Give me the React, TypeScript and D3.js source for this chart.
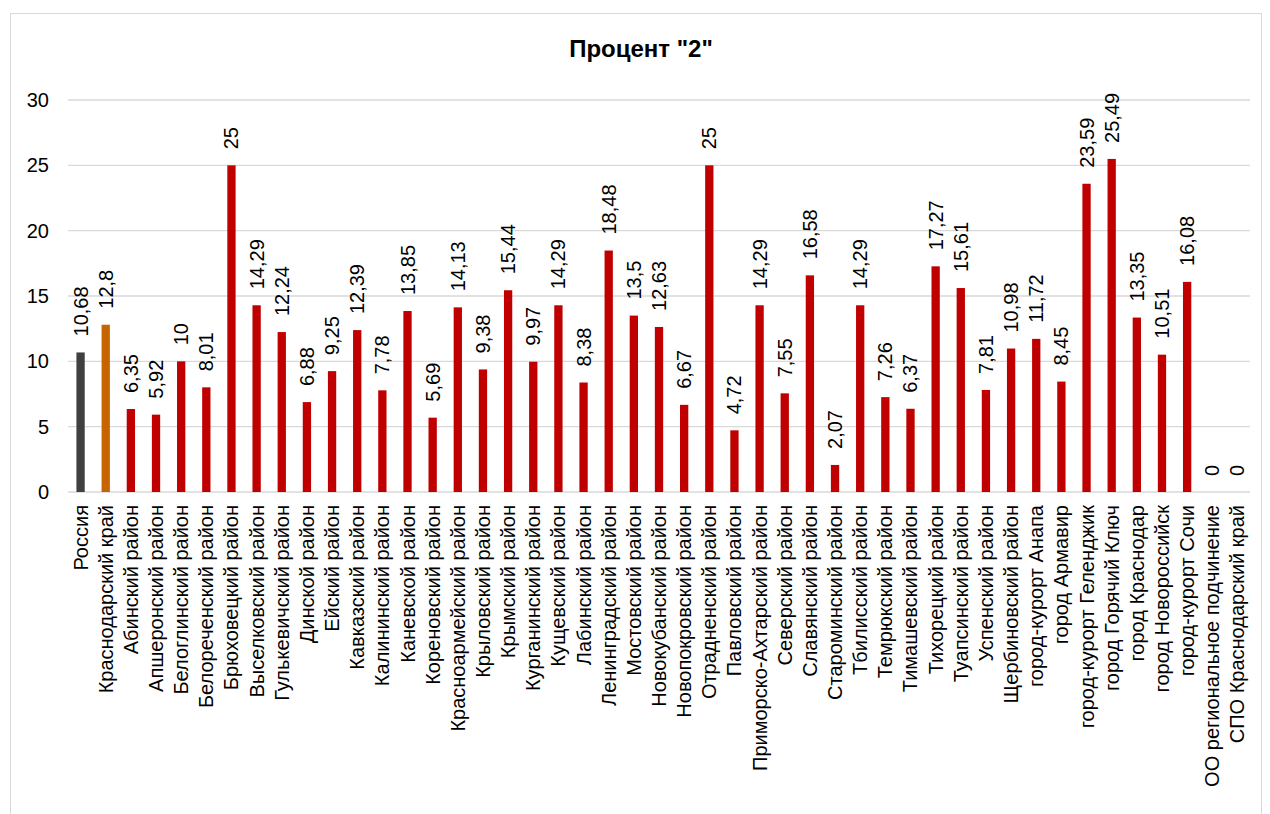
import React from "react";
import * as d3 from "d3";

const categories = [
  "Россия", "Краснодарский край", "Абинский район", "Апшеронский район", "Белоглинский район",
  "Белореченский район", "Брюховецкий район", "Выселковский район", "Гулькевичский район", "Динской район",
  "Ейский район", "Кавказский район", "Калининский район", "Каневской район", "Кореновский район",
  "Красноармейский район", "Крыловский район", "Крымский район", "Курганинский район", "Кущевский район",
  "Лабинский район", "Ленинградский район", "Мостовский район", "Новокубанский район", "Новопокровский район",
  "Отрадненский район", "Павловский район", "Приморско-Ахтарский район", "Северский район", "Славянский район",
  "Староминский район", "Тбилисский район", "Темрюкский район", "Тимашевский район", "Тихорецкий район",
  "Туапсинский район", "Успенский район", "Щербиновский район", "город-курорт Анапа", "город Армавир",
  "город-курорт Геленджик", "город Горячий Ключ", "город Краснодар", "город Новороссийск", "город-курорт Сочи",
  "ОО региональное подчинение", "СПО Краснодарский край",
];

const values = [
  10.68, 12.8, 6.35, 5.92, 10,
  8.01, 25, 14.29, 12.24, 6.88,
  9.25, 12.39, 7.78, 13.85, 5.69,
  14.13, 9.38, 15.44, 9.97, 14.29,
  8.38, 18.48, 13.5, 12.63, 6.67,
  25, 4.72, 14.29, 7.55, 16.58,
  2.07, 14.29, 7.26, 6.37, 17.27,
  15.61, 7.81, 10.98, 11.72, 8.45,
  23.59, 25.49, 13.35, 10.51, 16.08,
  0, 0,
];

const yTicks = [0, 5, 10, 15, 20, 25, 30];
const title = 'Процент "2"';

const W = 1270;
const H = 814;
const left = 68;
const right = 1250;
const top = 100;
const bottom = 492;
const font = "'Liberation Sans', Arial, sans-serif";

function colorFor(i: number) {
  if (i === 0) return "#404040";
  if (i === 1) return "#C86400";
  return "#C00000";
}

function fmt(v: number) {
  return String(v).replace(".", ",");
}

export default function App() {
  const x = d3.scaleBand<string>().domain(categories).range([left, right]);
  const y = d3.scaleLinear().domain([0, 30]).range([bottom, top]);
  const step = x.step();
  const bw = 8.3;

  return (
    <svg width={W} height={H} style={{ position: "absolute", left: 0, top: 0 }} fontFamily={font}>
      <rect x={0} y={0} width={W} height={H} fill="#fff" />
      <rect x={10.5} y={13.5} width={1251} height={H} fill="none" stroke="#d9d9d9" strokeWidth={1} />
      <text x={641} y={57} textAnchor="middle" fontSize={24} fontWeight="bold" fill="#000">{title}</text>
      {yTicks.map((t) => (
        <g key={t}>
          <line x1={left} x2={right} y1={y(t)} y2={y(t)} stroke="#d9d9d9" strokeWidth={1.3} />
          <text x={49} y={y(t)} dy="0.35em" textAnchor="end" fontSize={20} fill="#000">{t}</text>
        </g>
      ))}
      {categories.map((c, i) => {
        const cx = (x(c) as number) + step / 2;
        const v = values[i];
        return (
          <g key={c}>
            {v > 0 && (
              <rect x={cx - bw / 2} y={y(v)} width={bw} height={y(0) - y(v)} fill={colorFor(i)} />
            )}
            <text
              transform={`translate(${cx},${y(v) - 16}) rotate(-90)`}
              dy="0.35em"
              textAnchor="start"
              fontSize={20}
              fill="#000"
            >
              {fmt(v)}
            </text>
            <text
              transform={`translate(${cx},${bottom + 13}) rotate(-90)`}
              dy="0.35em"
              textAnchor="end"
              fontSize={20}
              fill="#000"
            >
              {c}
            </text>
          </g>
        );
      })}
    </svg>
  );
}
